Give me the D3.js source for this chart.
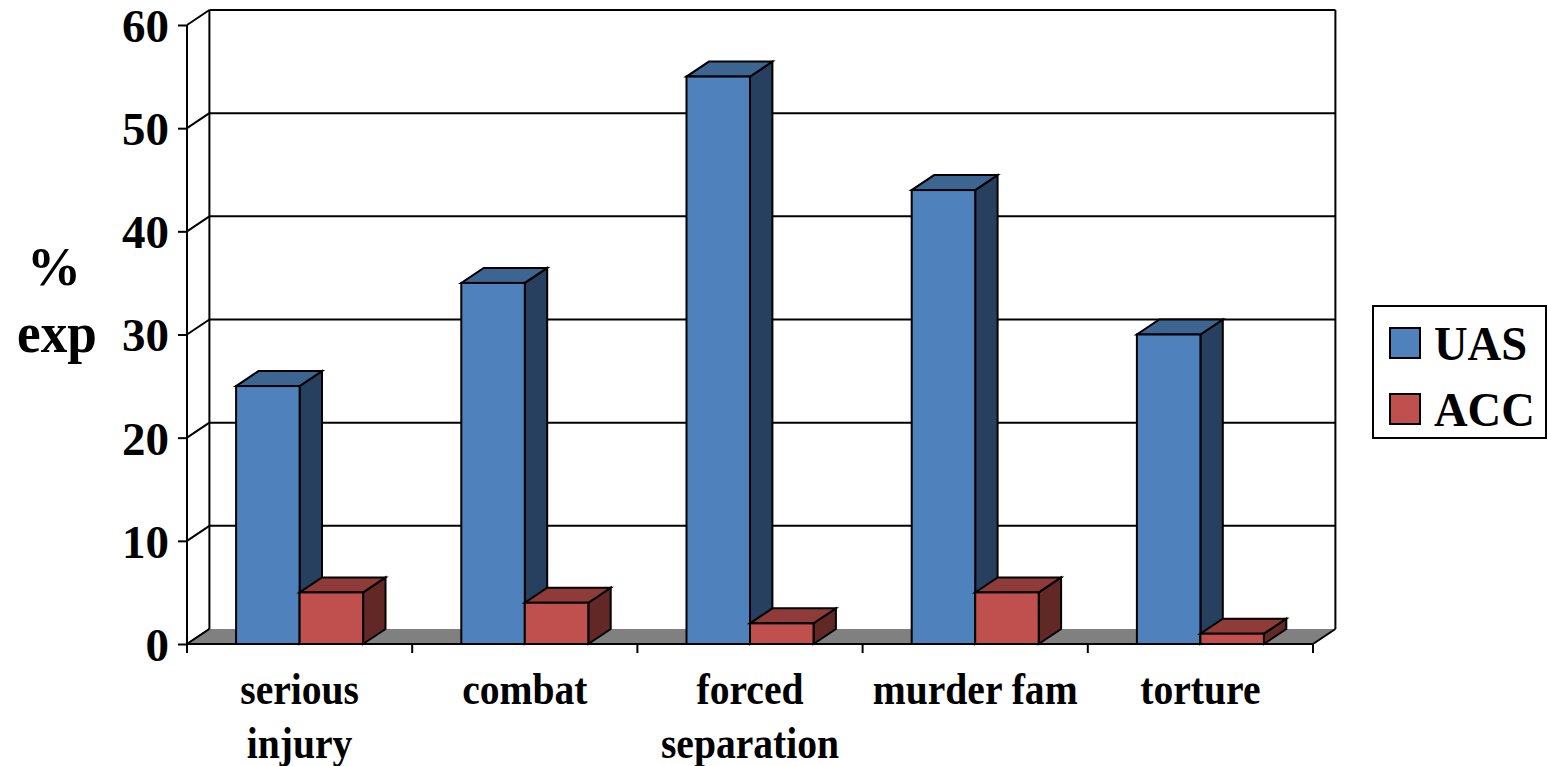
<!DOCTYPE html>
<html>
<head>
<meta charset="utf-8">
<script src="https://cdn.jsdelivr.net/npm/d3@7"></script>
<style>
  html, body { margin: 0; padding: 0; background: #ffffff; }
  svg { display: block; }
  text { font-family: "Liberation Serif", "Times New Roman", serif; font-weight: bold; fill: #000; }
</style>
</head>
<body>
<svg id="chart" width="1548" height="766"></svg>
<script>
// Data
const categories = ["serious injury", "combat", "forced separation", "murder fam", "torture"];
const categoryLines = [["serious", "injury"], ["combat"], ["forced", "separation"], ["murder fam"], ["torture"]];
const seriesNames = ["UAS", "ACC"];
const uasValues = [25, 35, 55, 44, 30];
const accValues = [5, 4, 2, 5, 1];
const yTicks = [0, 10, 20, 30, 40, 50, 60];

// Colours per series: front, top, side faces
const faceColors = {
  UAS: { front: "#4f81bd", top: "#3d6592", side: "#28405f" },
  ACC: { front: "#c0504d", top: "#8f3b39", side: "#622826" }
};

(function draw() {
  const svg = d3.select("#chart");

  // Plot frame (front plane) and the 3D depth offset
  const plotLeft = 187, plotRight = 1313, plotBottom = 644, plotTop = 25;
  const dx = 22.4, dy = -15;

  const y = d3.scaleLinear().domain([0, 60]).range([plotBottom, plotTop]);
  const gapRatio = 0.436;
  const x = d3.scaleBand().domain(categories).range([plotLeft, plotRight])
    .paddingInner(gapRatio).paddingOuter(gapRatio / 2);
  const xs = d3.scaleBand().domain(seriesNames).range([0, x.bandwidth()]);

  const lineW = 2;

  // Back wall gridlines and left wall diagonals
  const walls = svg.append("g").attr("stroke", "#000").attr("stroke-width", lineW).attr("fill", "none");
  yTicks.forEach(t => {
    if (t > 0) {
      walls.append("line")
        .attr("x1", plotLeft + dx).attr("y1", y(t) + dy)
        .attr("x2", plotRight + dx).attr("y2", y(t) + dy);
    }
    walls.append("line")
      .attr("x1", plotLeft).attr("y1", y(t))
      .attr("x2", plotLeft + dx).attr("y2", y(t) + dy);
  });
  walls.append("line").attr("x1", plotLeft + dx).attr("y1", y(60) + dy).attr("x2", plotLeft + dx).attr("y2", y(0) + dy);
  walls.append("line").attr("x1", plotRight + dx).attr("y1", y(60) + dy).attr("x2", plotRight + dx).attr("y2", y(0) + dy);

  // Floor
  svg.append("path")
    .attr("d", d3.line()([[plotLeft, y(0)], [plotRight, y(0)], [plotRight + dx, y(0) + dy], [plotLeft + dx, y(0) + dy]]) + "Z")
    .attr("fill", "#808080").attr("stroke", "none");
  svg.append("line")
    .attr("x1", plotRight).attr("y1", y(0)).attr("x2", plotRight + dx).attr("y2", y(0) + dy)
    .attr("stroke", "#000").attr("stroke-width", lineW);
  svg.append("line")
    .attr("x1", plotLeft).attr("y1", y(0)).attr("x2", plotLeft + dx).attr("y2", y(0) + dy)
    .attr("stroke", "#000").attr("stroke-width", lineW);

  // 3D bars
  const bars = svg.append("g").attr("stroke", "#000").attr("stroke-width", lineW).attr("stroke-linejoin", "miter");
  const valuesBySeries = { UAS: uasValues, ACC: accValues };
  categories.forEach((c, i) => {
    seriesNames.forEach(s => {
      const v = valuesBySeries[s][i];
      const x0 = x(c) + xs(s), x1 = x0 + xs.bandwidth();
      const yv = y(v), y0 = y(0);
      const col = faceColors[s];
      const g = bars.append("g");
      g.append("path")
        .attr("d", d3.line()([[x1, yv], [x1 + dx, yv + dy], [x1 + dx, y0 + dy], [x1, y0]]) + "Z")
        .attr("fill", col.side);
      g.append("path")
        .attr("d", d3.line()([[x0, yv], [x1, yv], [x1 + dx, yv + dy], [x0 + dx, yv + dy]]) + "Z")
        .attr("fill", col.top);
      g.append("rect")
        .attr("x", x0).attr("y", yv).attr("width", x1 - x0).attr("height", y0 - yv)
        .attr("fill", col.front);
    });
  });

  // Y axis
  const yAxis = svg.append("g").attr("transform", `translate(${plotLeft},0)`)
    .call(d3.axisLeft(y).tickValues(yTicks).tickSize(9).tickPadding(9).tickFormat(d3.format("d")));
  yAxis.select(".domain").attr("stroke", "#000").attr("stroke-width", lineW).attr("d", `M0,${plotTop}V${plotBottom}`);
  yAxis.selectAll(".tick line").attr("stroke", "#000").attr("stroke-width", lineW);
  yAxis.selectAll(".tick text")
    .attr("font-size", 47).attr("font-family", "Liberation Serif").attr("font-weight", "bold")
    .attr("dy", "0.35em");

  // X axis with ticks at category boundaries
  const xAxis = svg.append("g").attr("transform", `translate(0,${plotBottom})`);
  xAxis.append("line").attr("x1", plotLeft).attr("x2", plotRight).attr("y1", 0).attr("y2", 0)
    .attr("stroke", "#000").attr("stroke-width", lineW);
  const boundaries = categories.map(c => x(c) - x.step() * gapRatio / 2).concat([plotRight]);
  xAxis.selectAll("line.tick").data(boundaries).join("line").attr("class", "tick")
    .attr("x1", d => d).attr("x2", d => d).attr("y1", 0).attr("y2", 9)
    .attr("stroke", "#000").attr("stroke-width", lineW);

  // Category labels (slightly condensed glyphs)
  categories.forEach((c, i) => {
    const cx = x(c) + x.bandwidth() / 2;
    const t = svg.append("text").attr("text-anchor", "middle").attr("font-size", 44)
      .attr("transform", `translate(${cx},0) scale(0.9,1)`);
    categoryLines[i].forEach((ln, j) => {
      t.append("tspan").attr("x", 0).attr("y", 704 + j * 54).text(ln);
    });
  });

  // Y axis title
  svg.append("text").attr("x", 54).attr("y", 285).attr("text-anchor", "middle").attr("font-size", 54).text("%");
  svg.append("text").attr("x", 57).attr("y", 352).attr("text-anchor", "middle").attr("font-size", 56)
    .attr("transform", "translate(57,0) scale(0.95,1) translate(-57,0)").text("exp");

  // Legend
  const legend = svg.append("g");
  legend.append("rect").attr("x", 1373).attr("y", 306).attr("width", 173).attr("height", 132)
    .attr("fill", "#fff").attr("stroke", "#000").attr("stroke-width", lineW);
  seriesNames.forEach((s, i) => {
    const ly = 328 + i * 66;
    legend.append("rect").attr("x", 1390).attr("y", ly).attr("width", 30).attr("height", 30)
      .attr("fill", faceColors[s].front).attr("stroke", "#000").attr("stroke-width", lineW);
    legend.append("text").attr("x", 1434).attr("y", ly + 32).attr("font-size", 49)
      .attr("transform", `translate(1434,0) scale(0.95,1) translate(-1434,0)`).text(s);
  });
})();
</script>
</body>
</html>
